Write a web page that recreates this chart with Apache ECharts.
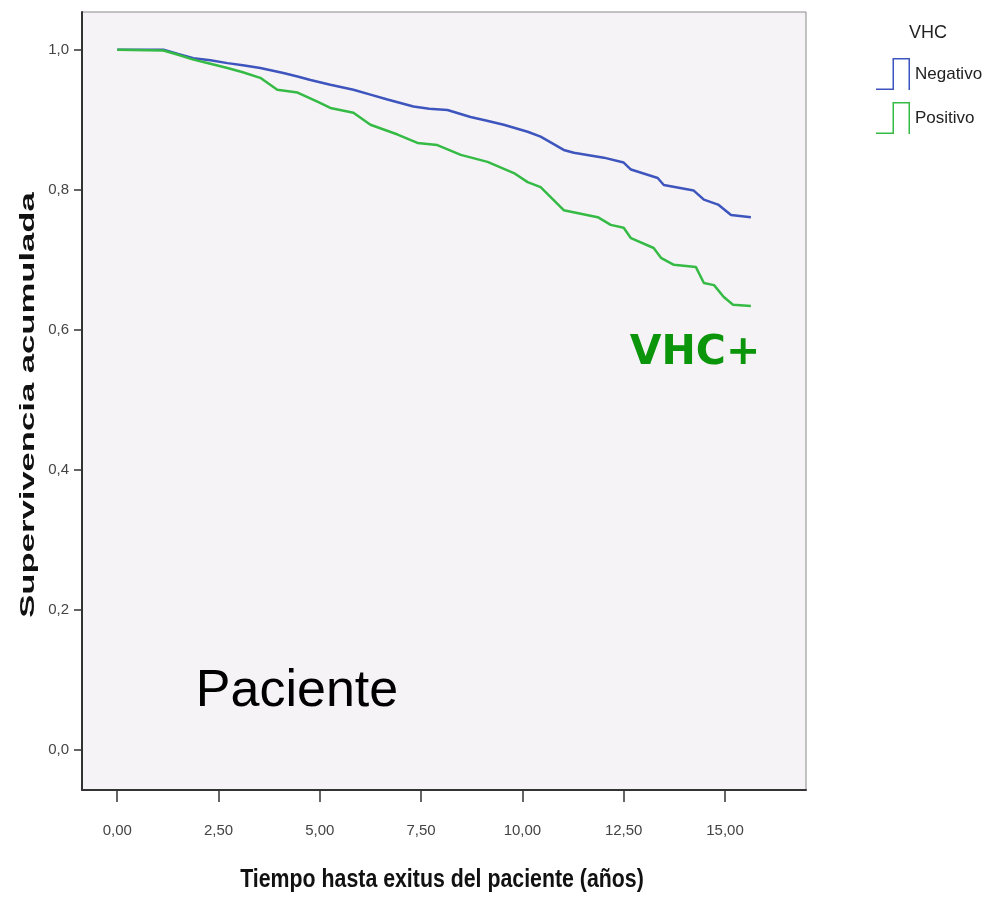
<!DOCTYPE html>
<html lang="es">
	<head>
		<meta charset="utf-8">
		<title>Supervivencia acumulada - VHC</title>
	</head>
	<style type="text/css">
		* {
			margin: 0;
			padding: 0;
		}

		#chart-container {
			position: relative;
			width: 987px;
			height: 899px;
			overflow: hidden;
			background: #fff;
		}
	</style>
	<body>
		<div id="chart-container"></div>
		<script src="https://fastly.jsdelivr.net/npm/echarts@6.0.0/dist/echarts.min.js"></script>
	</body>
	<script type="text/javascript">
		// años / supervivencia
		var negTime = [0, 1.14, 1.5, 1.88, 2.3, 2.72, 3.1, 3.53, 4.1, 4.45, 4.77, 5.26, 5.83, 6.25, 6.67, 7.31, 7.7, 8.15, 8.72, 9.1, 9.54, 10.13, 10.45, 11.02, 11.27, 12.01, 12.5, 12.68, 13.34, 13.49, 14.23, 14.48, 14.83, 15.15, 15.64];
		var negSurv = [1.0, 1.0, 0.994, 0.988, 0.985, 0.981, 0.978, 0.974, 0.967, 0.962, 0.957, 0.950, 0.943, 0.936, 0.929, 0.919, 0.916, 0.914, 0.904, 0.899, 0.893, 0.883, 0.876, 0.857, 0.853, 0.846, 0.839, 0.829, 0.817, 0.807, 0.799, 0.786, 0.779, 0.764, 0.761];

		var posTime = [0, 1.14, 1.5, 1.88, 2.3, 2.72, 3.1, 3.53, 3.95, 4.45, 4.94, 5.26, 5.83, 6.25, 6.92, 7.41, 7.9, 8.48, 9.14, 9.79, 10.13, 10.45, 11.02, 11.86, 12.18, 12.5, 12.68, 13.24, 13.42, 13.74, 14.28, 14.48, 14.73, 14.97, 15.2, 15.64];
		var posSurv = [1.0, 0.999, 0.993, 0.986, 0.980, 0.974, 0.968, 0.960, 0.943, 0.939, 0.926, 0.917, 0.910, 0.893, 0.879, 0.867, 0.864, 0.850, 0.840, 0.824, 0.811, 0.804, 0.771, 0.761, 0.750, 0.746, 0.731, 0.717, 0.703, 0.693, 0.690, 0.667, 0.664, 0.647, 0.636, 0.634];

		var xTicks = [0, 2.5, 5, 7.5, 10, 12.5, 15];
		var yTicks = [0, 0.2, 0.4, 0.6, 0.8, 1.0];
		var groups = ['Negativo', 'Positivo'];
		var colors = ['#3d55bd', '#35bb45'];

		function zip(a, b) {
			return a.map(function(v, i) {
				return [v, b[i]];
			});
		}

		var sans = '"Liberation Sans", Arial, sans-serif';

		var dom = document.getElementById('chart-container');
		var myChart = echarts.init(dom, null, {
			renderer: 'canvas'
		});

		var option = {
			animation: false,
			backgroundColor: '#ffffff',
			grid: {
				left: 82,
				right: 181,
				top: 12,
				bottom: 109,
				show: true,
				backgroundColor: '#f6f3f6',
				borderColor: '#8a8a8a',
				borderWidth: 1
			},
			legend: {
				orient: 'vertical',
				left: 871,
				top: 53,
				itemWidth: 34,
				itemHeight: 32,
				itemGap: 12,
				// escalon dibujado como contorno relleno
				icon: 'path://M0,30.5 L16.5,30.5 L16.5,0 L34,0 L34,32 L32.5,32 L32.5,1.5 L18,1.5 L18,32 L0,32 Z',
				itemStyle: {
					borderWidth: 0
				},
				textStyle: {
					fontFamily: sans,
					fontSize: 17,
					color: '#222'
				},
				data: groups
			},
			xAxis: {
				type: 'value',
				min: -0.87,
				max: 17.0,
				splitLine: { show: false },
				axisLine: {
					show: true,
					onZero: false,
					lineStyle: { color: '#333', width: 2 }
				},
				axisTick: {
					show: true,
					customValues: xTicks,
					length: 12,
					lineStyle: { color: '#333', width: 1.5 }
				},
				axisLabel: {
					customValues: xTicks,
					margin: 33,
					color: '#444',
					fontFamily: sans,
					fontSize: 15,
					formatter: function(v) {
						return v.toFixed(2).replace('.', ',');
					}
				}
			},
			yAxis: {
				type: 'value',
				min: -0.057,
				max: 1.054,
				splitLine: { show: false },
				axisLine: {
					show: true,
					onZero: false,
					lineStyle: { color: '#333', width: 2 }
				},
				axisTick: {
					show: true,
					customValues: yTicks,
					length: 8,
					lineStyle: { color: '#333', width: 1.5 }
				},
				axisLabel: {
					customValues: yTicks,
					margin: 13,
					color: '#444',
					fontFamily: sans,
					fontSize: 15,
					formatter: function(v) {
						return v.toFixed(1).replace('.', ',');
					}
				}
			},
			graphic: [{
					// titulo eje Y (estirado como en la imagen)
					type: 'text',
					x: 28,
					y: 405,
					rotation: Math.PI / 2,
					scaleX: 1.65,
					style: {
						text: 'Supervivencia acumulada',
						font: 'bold 21px ' + sans,
						fill: '#111',
						align: 'center',
						verticalAlign: 'middle'
					}
				},
				{
					// titulo eje X (condensado)
					type: 'text',
					x: 442,
					y: 880,
					scaleX: 0.82,
					style: {
						text: 'Tiempo hasta exitus del paciente (años)',
						font: 'bold 26px ' + sans,
						fill: '#111',
						align: 'center',
						verticalAlign: 'middle'
					}
				},
				{
					type: 'text',
					x: 928,
					y: 33,
					style: {
						text: 'VHC',
						font: '18px ' + sans,
						fill: '#222',
						align: 'center',
						verticalAlign: 'middle'
					}
				},
				{
					type: 'text',
					x: 695,
					y: 353,
					style: {
						text: 'VHC+',
						font: 'bold 41px "DejaVu Sans", sans-serif',
						fill: '#0a950a',
						align: 'center',
						verticalAlign: 'middle'
					}
				},
				{
					type: 'text',
					x: 297,
					y: 692,
					style: {
						text: 'Paciente',
						font: '52px ' + sans,
						fill: '#000',
						align: 'center',
						verticalAlign: 'middle'
					}
				}
			],
			series: [{
					name: groups[0],
					type: 'line',
					showSymbol: false,
					color: colors[0],
					lineStyle: { width: 2.5, color: colors[0] },
					data: zip(negTime, negSurv)
				},
				{
					name: groups[1],
					type: 'line',
					showSymbol: false,
					color: colors[1],
					lineStyle: { width: 2.5, color: colors[1] },
					data: zip(posTime, posSurv)
				}
			]
		};

		myChart.setOption(option);
		window.addEventListener('resize', myChart.resize);
	</script>
</html>
